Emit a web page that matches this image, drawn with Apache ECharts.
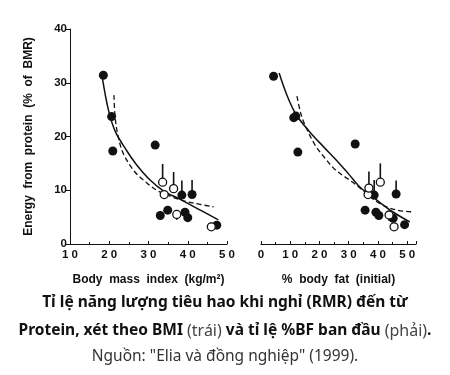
<!DOCTYPE html>
<html>
<head>
<meta charset="utf-8">
<script src="https://cdn.jsdelivr.net/npm/echarts@6/dist/echarts.min.js"></script>
<style>
html,body{margin:0;padding:0;background:#fff;}
#chart{width:450px;height:375px;}
</style>
</head>
<body>
<div id="chart"></div>
<script>
// ---- data ----
var yTicks = [0, 10, 20, 30, 40];
var bmiTicks = [10, 20, 30, 40, 50];
var fatTicks = [0, 10, 20, 30, 40, 50];

// Left panel: BMI
var bmiFilledX = [18.5, 20.6, 20.9, 31.7, 33.0, 34.9, 38.5, 39.3, 40.0, 41.1, 47.4];
var bmiFilledY = [31.4, 23.7, 17.3, 18.4, 5.3, 6.3, 9.1, 5.9, 4.9, 9.2, 3.5];
var bmiOpenX = [33.6, 34.0, 36.4, 37.2, 46.0];
var bmiOpenY = [11.5, 9.2, 10.3, 5.5, 3.2];
var bmiErrX = [33.6, 36.4, 38.5, 41.1, 37.2, 46.0];
var bmiErrFrom = [11.5, 10.3, 9.1, 9.2, 5.5, 3.2];
var bmiErrTo = [14.9, 13.4, 11.8, 11.9, 4.5, 4.0];
var bmiSolidX = [18.2, 19.8, 21.5, 24.5, 27.0, 30.4, 33.8, 38.1, 43.2, 47.8];
var bmiSolidY = [31.1, 24.9, 21.0, 17.3, 14.7, 11.9, 9.9, 8.3, 6.3, 4.5];
var bmiDashX = [21.2, 21.5, 22.3, 23.6, 26.2, 28.7, 32.1, 34.2, 38.1, 41.5, 46.6];
var bmiDashY = [27.7, 23.6, 19.9, 16.8, 13.7, 11.9, 10.0, 9.3, 8.2, 7.6, 6.9];

// Right panel: % body fat
var fatFilledX = [4.3, 11.2, 11.9, 12.6, 32.2, 35.6, 38.7, 39.3, 40.3, 45.2, 46.2, 49.1];
var fatFilledY = [31.2, 23.5, 23.8, 17.1, 18.6, 6.3, 9.1, 5.9, 5.3, 4.8, 9.3, 3.6];
var fatOpenX = [36.6, 36.9, 40.8, 43.8, 45.5];
var fatOpenY = [9.2, 10.4, 11.5, 5.4, 3.2];
var fatErrX = [36.9, 38.7, 40.8, 46.2, 43.8];
var fatErrFrom = [10.4, 9.1, 11.5, 9.3, 5.4];
var fatErrTo = [13.5, 11.9, 15.0, 11.8, 4.3];
var fatSolidX = [6.2, 9.0, 12.1, 16.6, 21.0, 25.8, 30.0, 33.8, 39.5, 45.0, 50.9];
var fatSolidY = [31.8, 27.5, 24.0, 20.9, 18.3, 15.6, 13.0, 10.6, 8.2, 6.0, 4.1];
var fatDashX = [12.3, 13.5, 15.0, 18.4, 22.0, 25.2, 29.2, 33.0, 36.1, 40.7, 46.4, 51.5];
var fatDashY = [27.5, 24.5, 22.2, 18.5, 15.9, 13.9, 12.3, 10.8, 9.4, 7.5, 6.3, 6.0];

// Texts
var yAxisTitle = 'Energy  from  protein  (%  of  BMR)';
var bmiAxisTitle = 'Body  mass  index  (kg/m²)';
var fatAxisTitle = '%  body  fat  (initial)';
var captionLine1 = 'Tỉ lệ năng lượng tiêu hao khi nghỉ (RMR) đến từ';
var captionLine2Parts = [['b', 'Protein, xét theo BMI '], ['n', '(trái)'], ['b', ' và tỉ lệ %BF ban đầu '], ['n', '(phải)'], ['b', '.']];
var captionLine3 = 'Nguồn: "Elia và đồng nghiệp" (1999).';

function zip(a, b) { return a.map(function (v, i) { return [v, b[i]]; }); }
function zip3(a, b, c) { return a.map(function (v, i) { return [v, b[i], c[i]]; }); }

var chart = echarts.init(document.getElementById('chart'), null, {renderer: 'canvas'});
var tickFont = {fontFamily: 'Liberation Sans, Arial', fontWeight: 'bold', fontSize: 11.5, color: '#111'};
var nameFont = {fontFamily: 'Liberation Sans, Arial', fontWeight: 'bold', fontSize: 12, color: '#111'};
var spaced = function (v) { return String(v).split('').join(' '); };

function xAxisCfg(gridIndex, min, max, name, ticks) {
  return {
    type: 'value', gridIndex: gridIndex, min: min, max: max, interval: 10,
    name: name, nameLocation: 'middle', nameGap: 30,
    nameTextStyle: nameFont,
    axisLine: {show: true, lineStyle: {color: '#111', width: 1}},
    axisTick: {show: true, inside: true, length: 3, lineStyle: {color: '#111'}},
    minorTick: {show: true, splitNumber: 2, length: 2, lineStyle: {color: '#111'}},
    splitLine: {show: false},
    axisLabel: Object.assign({margin: 5, formatter: function (v) { return ticks.indexOf(v) >= 0 ? spaced(v) : ''; }}, tickFont)
  };
}
function errSeries(xi, yi, data) {
  return {
    type: 'custom', xAxisIndex: xi, yAxisIndex: yi, data: data, z: 2,
    encode: {x: 0, y: [1, 2]},
    renderItem: function (params, api) {
      var p1 = api.coord([api.value(0), api.value(1)]);
      var p2 = api.coord([api.value(0), api.value(2)]);
      return {type: 'line', shape: {x1: p1[0], y1: p1[1], x2: p2[0], y2: p2[1]}, style: {stroke: '#111', lineWidth: 1.6}};
    }
  };
}
function curve(xi, yi, data, dashed) {
  return {
    type: 'line', xAxisIndex: xi, yAxisIndex: yi, data: data, smooth: 0.35,
    showSymbol: false, symbol: 'none', z: 1, silent: true,
    lineStyle: {color: '#111', width: dashed ? 1.3 : 1.5, type: dashed ? [5, 3] : 'solid'}
  };
}
function pts(xi, yi, data, open) {
  return {
    type: 'scatter', xAxisIndex: xi, yAxisIndex: yi, data: data, symbol: 'circle', symbolSize: open ? 8 : 9, z: 3,
    itemStyle: open ? {color: '#fff', borderColor: '#111', borderWidth: 1.3, opacity: 1} : {color: '#111', opacity: 1}
  };
}

var line2Text = captionLine2Parts.map(function (p) { return '{' + p[0] + '|' + p[1] + '}'; }).join('');

chart.setOption({
  animation: false,
  backgroundColor: '#fff',
  title: [
    {text: captionLine1, left: 'center', top: 295, padding: 0,
     textStyle: {fontFamily: 'Noto Sans', fontWeight: 'bold', fontSize: 15.5, color: '#111'}},
    {text: line2Text, left: 'center', top: 323, padding: 0,
     textStyle: {rich: {
       b: {fontFamily: 'Noto Sans', fontWeight: 'bold', fontSize: 15.5, color: '#111'},
       n: {fontFamily: 'Noto Sans', fontWeight: 'normal', fontSize: 16, color: '#444'}
     }}},
    {text: captionLine3, left: 'center', top: 349, padding: 0,
     textStyle: {fontFamily: 'Noto Sans', fontWeight: 'normal', fontSize: 15.5, color: '#333'}}
  ],
  grid: [
    {left: 70, top: 29, width: 157, height: 215},
    {left: 261, top: 29, width: 155, height: 215}
  ],
  xAxis: [
    xAxisCfg(0, 10, 50, bmiAxisTitle, bmiTicks),
    xAxisCfg(1, 0, 53, fatAxisTitle, fatTicks)
  ],
  yAxis: [
    {type: 'value', gridIndex: 0, min: 0, max: 40, interval: 10,
     name: yAxisTitle, nameLocation: 'middle', nameGap: 35,
     nameTextStyle: nameFont,
     axisLine: {show: true, lineStyle: {color: '#111', width: 1}},
     axisTick: {show: true, inside: false, length: 4, lineStyle: {color: '#111'}},
     splitLine: {show: false},
     axisLabel: Object.assign({margin: 3, formatter: function (v) { return yTicks.indexOf(v) >= 0 ? String(v) : ''; }}, tickFont)},
    {type: 'value', gridIndex: 1, min: 0, max: 40, interval: 10, show: false, splitLine: {show: false}}
  ],
  series: [
    curve(0, 0, zip(bmiSolidX, bmiSolidY), false),
    curve(0, 0, zip(bmiDashX, bmiDashY), true),
    errSeries(0, 0, zip3(bmiErrX, bmiErrFrom, bmiErrTo)),
    pts(0, 0, zip(bmiFilledX, bmiFilledY), false),
    pts(0, 0, zip(bmiOpenX, bmiOpenY), true),
    curve(1, 1, zip(fatSolidX, fatSolidY), false),
    curve(1, 1, zip(fatDashX, fatDashY), true),
    errSeries(1, 1, zip3(fatErrX, fatErrFrom, fatErrTo)),
    pts(1, 1, zip(fatFilledX, fatFilledY), false),
    pts(1, 1, zip(fatOpenX, fatOpenY), true)
  ]
});
</script>
</body>
</html>
